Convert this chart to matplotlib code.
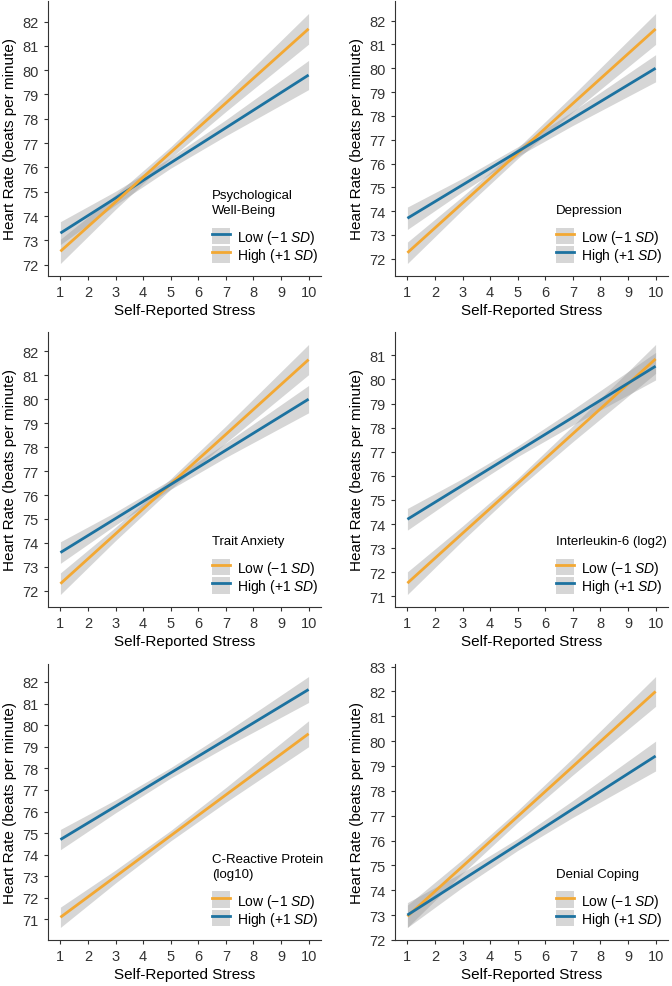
import numpy as np
import matplotlib
matplotlib.use("Agg")
import matplotlib.pyplot as plt
from matplotlib.lines import Line2D
from matplotlib.patches import Patch
from matplotlib.ticker import MultipleLocator

plt.rcParams['font.family'] = ['Liberation Sans', 'DejaVu Sans']
plt.rcParams['mathtext.fontset'] = 'custom'
plt.rcParams['mathtext.it'] = 'Liberation Sans:italic'
plt.rcParams['mathtext.rm'] = 'Liberation Sans'

# stress levels where fitted values / CI half-widths were read
stress = [1, 3, 5, 7, 10]

titles = ["Psychological\nWell-Being", "Depression", "Trait Anxiety",
          "Interleukin-6 (log2)", "C-Reactive Protein\n(log10)", "Denial Coping"]

# fitted heart rate for the Low (-1 SD) group
low_fit = [
    [73.3, 74.74, 76.19, 77.63, 79.8],
    [72.25, 74.34, 76.43, 78.52, 81.65],
    [72.3, 74.38, 76.46, 78.53, 81.65],
    [71.55, 73.62, 75.68, 77.75, 80.85],
    [71.1, 72.99, 74.88, 76.77, 79.6],
    [72.95, 74.96, 76.97, 78.98, 82.0],
]
# fitted heart rate for the High (+1 SD) group
high_fit = [
    [72.55, 74.58, 76.62, 78.65, 81.7],
    [73.7, 75.1, 76.5, 77.9, 80.0],
    [73.6, 75.02, 76.44, 77.87, 80.0],
    [74.2, 75.61, 77.02, 78.43, 80.55],
    [74.7, 76.24, 77.79, 79.33, 81.65],
    [73.0, 74.42, 75.84, 77.27, 79.4],
]
# half-width of the confidence band
low_ci = [
    [0.47, 0.28, 0.22, 0.33, 0.6],
    [0.45, 0.28, 0.22, 0.35, 0.65],
    [0.45, 0.28, 0.22, 0.35, 0.63],
    [0.47, 0.3, 0.22, 0.33, 0.6],
    [0.47, 0.3, 0.24, 0.34, 0.6],
    [0.45, 0.28, 0.24, 0.34, 0.6],
]
high_ci = [
    [0.5, 0.3, 0.23, 0.35, 0.63],
    [0.47, 0.28, 0.2, 0.3, 0.57],
    [0.45, 0.27, 0.2, 0.3, 0.57],
    [0.45, 0.28, 0.22, 0.32, 0.57],
    [0.47, 0.3, 0.24, 0.34, 0.6],
    [0.5, 0.3, 0.24, 0.34, 0.6],
]

BLUE = "#1c72a0"
ORANGE = "#f3a833"
low_colors = [BLUE, ORANGE, ORANGE, ORANGE, ORANGE, ORANGE]
high_colors = [ORANGE, BLUE, BLUE, BLUE, BLUE, BLUE]

W, H = 672, 987
fig = plt.figure(figsize=(W / 100, H / 100), dpi=100)

lefts = [48, 395]
tops = [2, 333, 665]
bottoms = [277, 608, 941]
aw = 273
leg_x = [0.60, 0.59]

for i in range(6):
    r, c = divmod(i, 2)
    l = lefts[c]
    ax = fig.add_axes([l / W, (H - bottoms[r]) / H, aw / W,
                       (bottoms[r] - tops[r]) / H])
    x = np.array(stress)
    for fit, ci in [(low_fit[i], low_ci[i]), (high_fit[i], high_ci[i])]:
        fit = np.array(fit)
        ci = np.array(ci)
        ax.fill_between(x, fit - ci, fit + ci, color="#999999", alpha=0.4,
                        linewidth=0)
    for fit, col in [(low_fit[i], low_colors[i]), (high_fit[i], high_colors[i])]:
        ax.plot(x, fit, color=col, lw=2, solid_capstyle='butt')

    ax.set_xticks(range(1, 11))
    ax.yaxis.set_major_locator(MultipleLocator(1))
    ax.margins(x=0.05, y=0.05)
    for s in ['top', 'right']:
        ax.spines[s].set_visible(False)
    for s in ['left', 'bottom']:
        ax.spines[s].set_color('#333333')
        ax.spines[s].set_linewidth(0.8)
    ax.tick_params(labelsize=10.5, colors='#333333', length=3, width=0.8,
                   labelcolor='#333333')
    ax.set_xlabel("Self-Reported Stress", fontsize=11, labelpad=3)
    ax.set_ylabel("Heart Rate (beats per minute)", fontsize=11, labelpad=4)

    handles = [
        (Patch(facecolor="#999999", alpha=0.4, edgecolor='none'),
         Line2D([], [], color=low_colors[i], lw=2)),
        (Patch(facecolor="#999999", alpha=0.4, edgecolor='none'),
         Line2D([], [], color=high_colors[i], lw=2)),
    ]
    labels = ["Low (\u22121 $\\mathit{SD}$)", "High (+1 $\\mathit{SD}$)"]
    leg = ax.legend(handles, labels, title=titles[i], loc='lower left',
                    bbox_to_anchor=(leg_x[c], 0.045), frameon=False,
                    fontsize=10, title_fontsize=9.5, handlelength=1.3,
                    handleheight=1.5, labelspacing=0.0, handletextpad=0.5,
                    borderpad=0, borderaxespad=0, alignment='left')
    leg.get_title().set_linespacing(1.4)
    leg._legend_box.sep = 8

fig.savefig("out.png", dpi=100)
